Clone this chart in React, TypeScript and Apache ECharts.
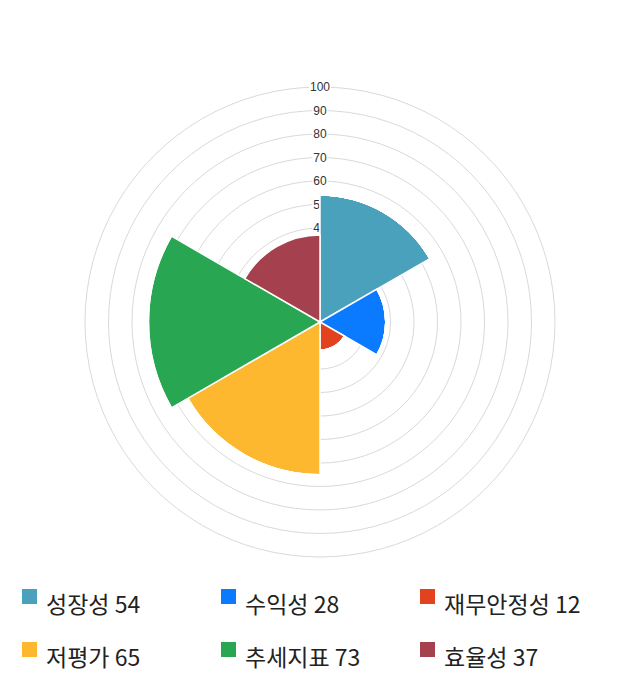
import React, { useRef, useEffect } from 'react';
import * as echarts from 'echarts';

const CATEGORIES = ['성장성', '수익성', '재무안정성', '저평가', '추세지표', '효율성'];
const VALUES = [54, 28, 12, 65, 73, 37];
const COLORS = ['#4aa1bb', '#0a7aff', '#e2431e', '#fdb830', '#28a652', '#a5404e'];
const RADIUS_TICKS = { min: 0, max: 100, interval: 10 };

// legend grid: 3 columns x 2 rows
const LEGEND_LEFT = [22, 221, 420];
const LEGEND_TOP = [589, 642];
// square sits in the upper part of a taller box, so it lines up with the top of the text
const LEGEND_ICON = 'path://M0,0H15V15H0Z M0,27.9H0.1V28H0Z';

export default function App() {
  const chartRef = useRef<HTMLDivElement>(null);

  useEffect(() => {
    document.body.style.margin = '0';
    if (!chartRef.current) return;
    const chart = echarts.init(chartRef.current, undefined, { renderer: 'svg' });

    const series = CATEGORIES.map((name, i) => ({
      name,
      type: 'bar' as const,
      coordinateSystem: 'polar',
      stack: 'all',
      barCategoryGap: '0%',
      data: CATEGORIES.map((_, j) => (j === i ? VALUES[i] : 0)),
      itemStyle: { color: COLORS[i], borderColor: '#fff', borderWidth: 1.5 },
      emphasis: { disabled: true },
    }));

    // one legend per item so the columns line up like the original
    const legends = CATEGORIES.map((name, i) => ({
      data: [name],
      left: LEGEND_LEFT[i % 3],
      top: LEGEND_TOP[Math.floor(i / 3)],
      padding: 0,
      itemWidth: 15,
      itemHeight: 28,
      icon: LEGEND_ICON,
      itemStyle: { borderWidth: 0 },
      selectedMode: false,
      formatter: (n: string) => `${n} ${VALUES[CATEGORIES.indexOf(n)]}`,
      textStyle: {
        fontFamily: 'Noto Sans CJK KR',
        fontSize: 23,
        color: '#222',
        padding: [0, 0, 0, 4],
      },
    }));

    chart.setOption({
      animation: false,
      backgroundColor: '#fff',
      polar: { center: [320, 322], radius: 235 },
      angleAxis: {
        type: 'category',
        data: CATEGORIES,
        startAngle: 90,
        clockwise: true,
        axisLine: { show: false },
        axisTick: { show: false },
        axisLabel: { show: false },
        splitLine: { show: false },
      },
      radiusAxis: {
        type: 'value',
        min: RADIUS_TICKS.min,
        max: RADIUS_TICKS.max,
        interval: RADIUS_TICKS.interval,
        axisLine: { show: false },
        axisTick: { show: false },
        axisLabel: {
          show: true,
          showMinLabel: false,
          margin: 0,
          align: 'center',
          verticalAlign: 'middle',
          fontFamily: 'Liberation Sans',
          fontSize: 12,
          color: '#333',
          backgroundColor: '#fff',
          padding: [0, 1],
        },
        splitLine: { show: true, lineStyle: { color: '#d9d9d9', width: 1 } },
      },
      legend: legends,
      series,
    });

    return () => chart.dispose();
  }, []);

  return <div ref={chartRef} style={{ width: 640, height: 700 }} />;
}
